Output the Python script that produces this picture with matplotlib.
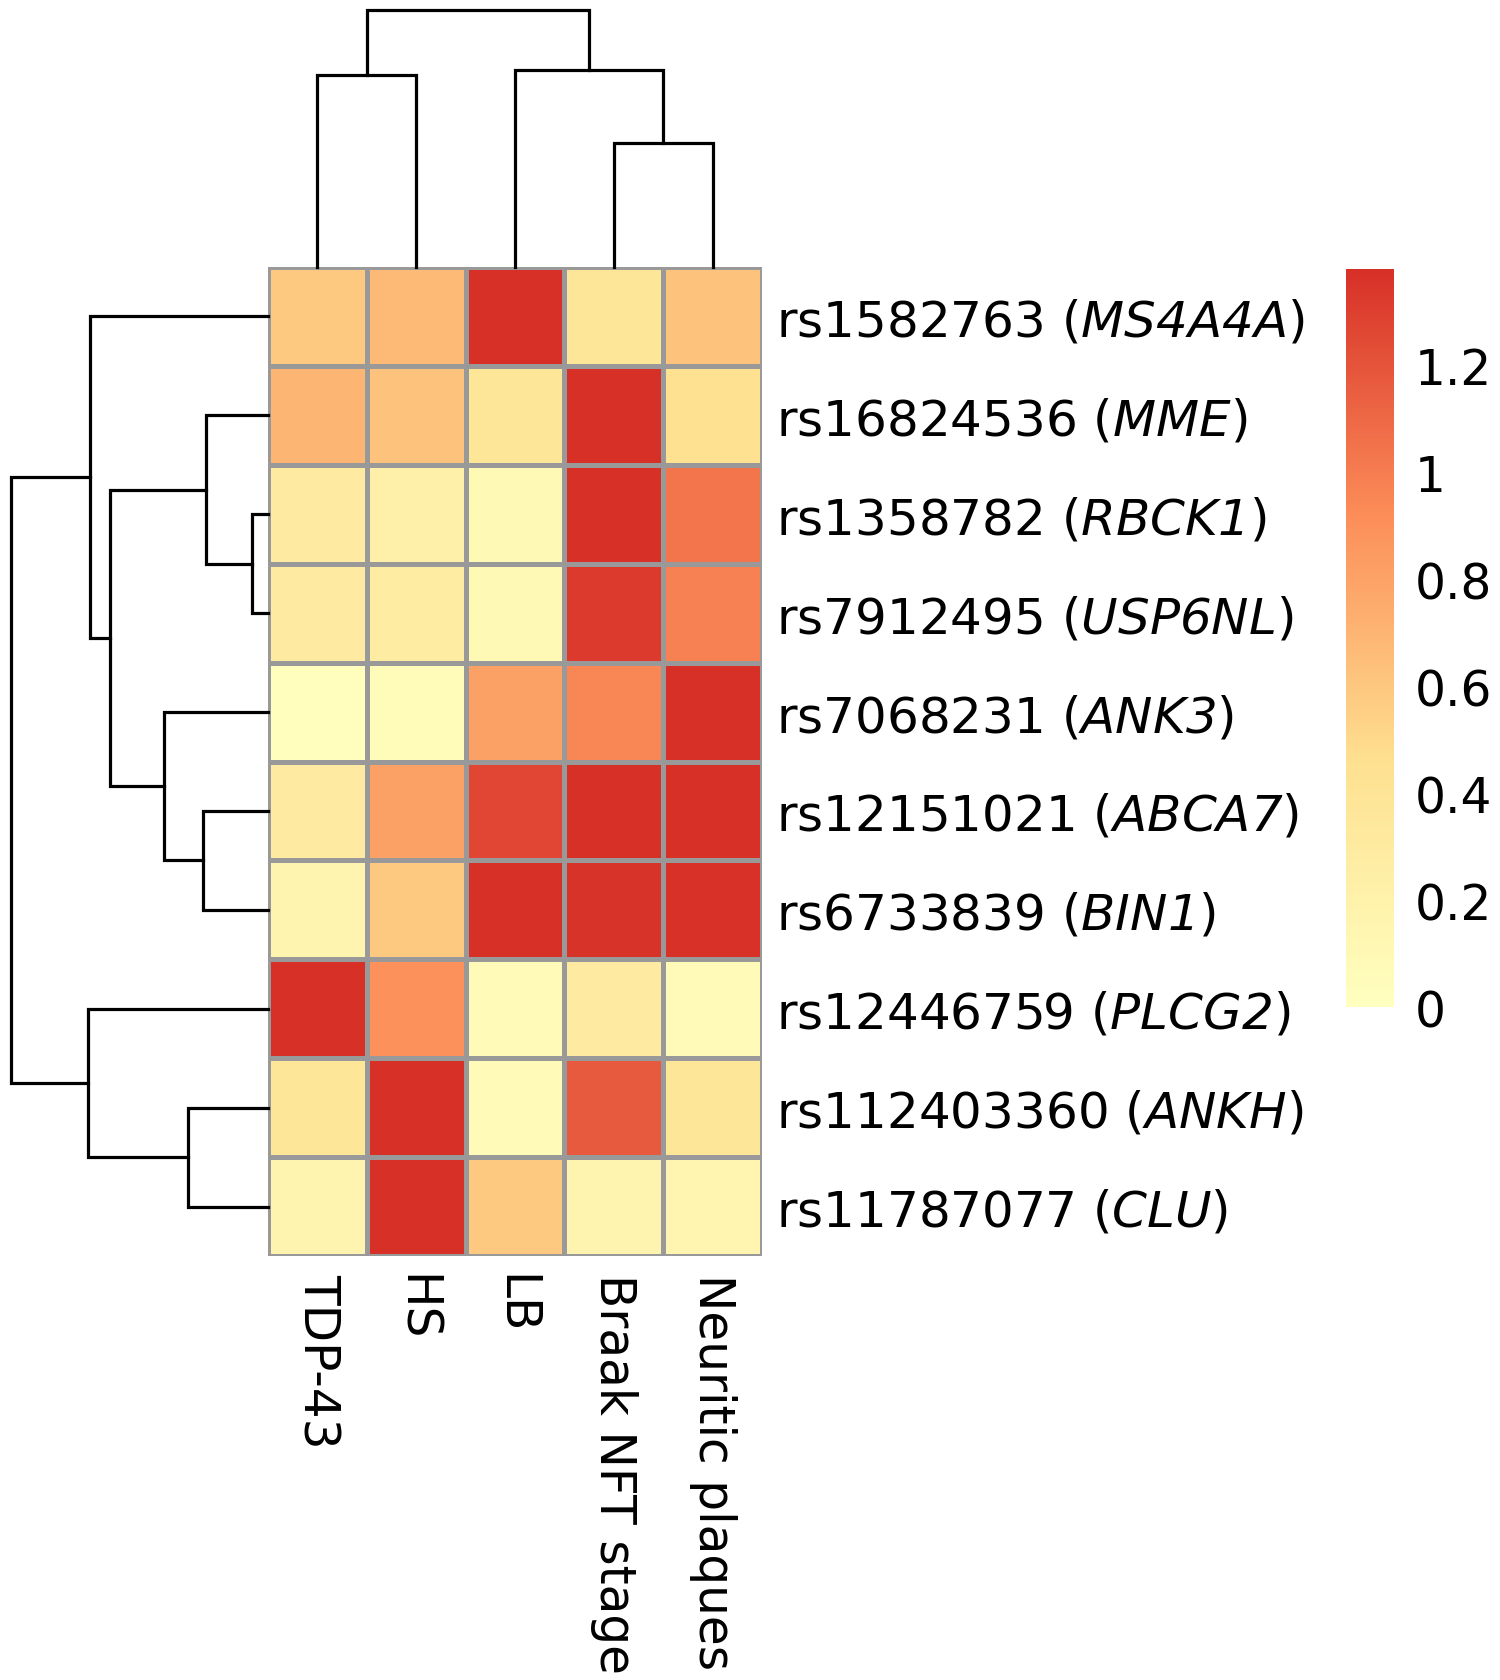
import matplotlib
matplotlib.use("Agg")
import matplotlib.pyplot as plt
import numpy as np
from matplotlib.colors import LinearSegmentedColormap

# italic gene names (including digits): route mathtext roman to the oblique face
plt.rcParams["mathtext.fontset"] = "custom"
plt.rcParams["mathtext.rm"] = "DejaVu Sans:italic"
plt.rcParams["mathtext.it"] = "DejaVu Sans:italic"

# ---------------- data ----------------
snps = ["rs1582763", "rs16824536", "rs1358782", "rs7912495", "rs7068231",
        "rs12151021", "rs6733839", "rs12446759", "rs112403360", "rs11787077"]
genes = ["MS4A4A", "MME", "RBCK1", "USP6NL", "ANK3",
         "ABCA7", "BIN1", "PLCG2", "ANKH", "CLU"]
traits = ["TDP-43", "HS", "LB", "Braak NFT stage", "Neuritic plaques"]

tdp43 = [0.59, 0.70, 0.30, 0.30, 0.02, 0.30, 0.16, 1.38, 0.37, 0.16]
hs = [0.67, 0.62, 0.22, 0.28, 0.05, 0.81, 0.59, 0.90, 1.38, 1.38]
lb = [1.38, 0.37, 0.09, 0.09, 0.81, 1.27, 1.38, 0.08, 0.08, 0.59]
braak = [0.37, 1.38, 1.38, 1.33, 0.95, 1.38, 1.36, 0.30, 1.17, 0.16]
neuritic = [0.62, 0.45, 1.04, 0.98, 1.38, 1.38, 1.37, 0.08, 0.37, 0.15]

# dendrogram merges: (left id, right id, height); leaves are 0..n-1, clusters n+i
col_merges = [(3, 4, 1.24), (0, 1, 1.92), (2, 5, 1.97), (6, 7, 2.57)]
row_merges = [(2, 3, 0.16), (5, 6, 0.65), (1, 10, 0.62), (8, 9, 0.80),
              (4, 11, 1.04), (12, 14, 1.58), (0, 15, 1.78), (7, 13, 1.80),
              (16, 17, 2.57)]

cbar_ticks = [0, 0.2, 0.4, 0.6, 0.8, 1.0, 1.2]
vmin, vmax = 0.0, 1.38

# ---------------- figure ----------------
W, H = 1500, 1681
fig = plt.figure(figsize=(W / 100, H / 100), dpi=100)


def frac(x0, y0, x1, y1):
    return [x0 / W, 1 - y1 / H, (x1 - x0) / W, (y1 - y0) / H]


cmap = LinearSegmentedColormap.from_list(
    "ryb", ["#FFFFBF", "#FEE090", "#FC8D59", "#D73027"])

data = np.array([tdp43, hs, lb, braak, neuritic]).T
nrow, ncol = data.shape

hx0, hy0, hx1, hy1 = 268, 268, 762, 1257
ax = fig.add_axes(frac(hx0, hy0, hx1, hy1))
mesh = ax.pcolormesh(np.arange(ncol + 1), np.arange(nrow + 1), data,
                     cmap=cmap, vmin=vmin, vmax=vmax,
                     edgecolors="#999999", linewidth=2.2)
ax.set_xlim(0, ncol)
ax.set_ylim(nrow, 0)
for s in ax.spines.values():
    s.set_visible(False)
ax.yaxis.tick_right()
ax.set_yticks(np.arange(nrow) + 0.5)
ax.set_yticklabels([f"{s} ($\\mathrm{{{g}}}$)" for s, g in zip(snps, genes)],
                   fontsize=36)
ax.set_xticks(np.arange(ncol) + 0.5)
ax.set_xticklabels(traits, rotation=-90, fontsize=35, va="top", ha="center")
ax.tick_params(axis="y", length=0, pad=10)
ax.tick_params(axis="x", length=0, pad=12)


def draw_dendro(axd, merges, n, orient):
    pos = {i: i + 0.5 for i in range(n)}
    hgt = {i: 0.0 for i in range(n)}
    for k, (a, b, h) in enumerate(merges):
        cid = n + k
        pa, pb = pos[a], pos[b]
        ha, hb = hgt[a], hgt[b]
        xs = [pa, pa, pb, pb]
        ys = [ha, h, h, hb]
        if orient == "top":
            axd.plot(xs, ys, color="black", lw=2.3, clip_on=False,
                     solid_joinstyle="miter")
        else:
            axd.plot(ys, xs, color="black", lw=2.3, clip_on=False,
                     solid_joinstyle="miter")
        pos[cid] = (pa + pb) / 2
        hgt[cid] = h
    return max(m[2] for m in merges)


axc = fig.add_axes(frac(hx0, 11, hx1, hy0))
top = draw_dendro(axc, col_merges, ncol, "top")
axc.set_xlim(0, ncol)
axc.set_ylim(0, top)
axc.axis("off")

axr = fig.add_axes(frac(11, hy0, hx0, hy1))
top = draw_dendro(axr, row_merges, nrow, "left")
axr.set_ylim(nrow, 0)
axr.set_xlim(top, 0)
axr.axis("off")

cax = fig.add_axes(frac(1346, 270, 1394, 1008))
cb = fig.colorbar(mesh, cax=cax)
cb.outline.set_visible(False)
cb.set_ticks(cbar_ticks)
cb.set_ticklabels([f"{t:g}" for t in cbar_ticks])
cax.tick_params(length=0, pad=15, labelsize=35)

fig.savefig("out.png", dpi=100, facecolor="white")
